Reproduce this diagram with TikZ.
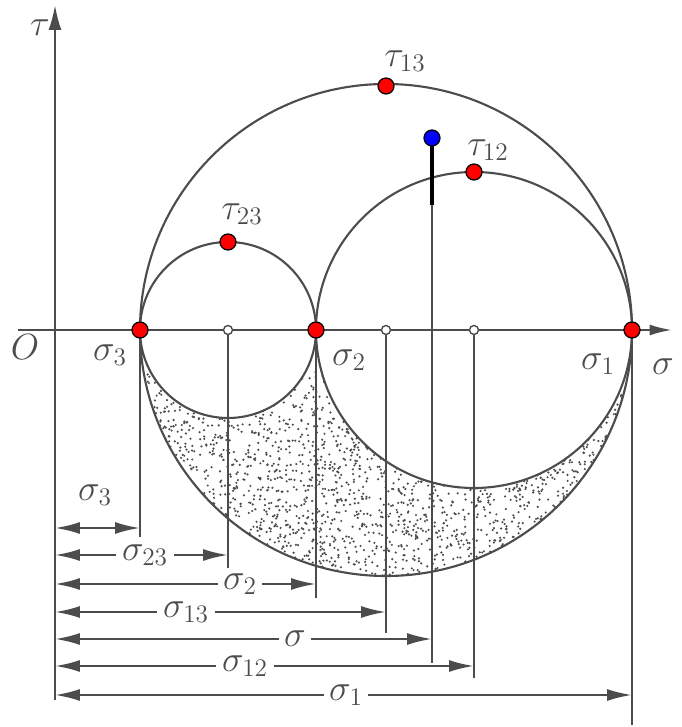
\documentclass[tikz,border=0pt]{standalone}
\usetikzlibrary{arrows.meta}
\definecolor{ink}{gray}{0.3}
\begin{document}
\begin{tikzpicture}[x=0.02cm,y=0.02cm,font=\fontsize{22}{26}\selectfont,
  ext/.style={draw=ink,line width=1.2pt},
  dim/.style={draw=ink,line width=1.3pt,-{Latex[length=5mm,width=2.4mm]}},
  lab/.style={inner sep=3pt,text=ink},
  dot/.style={circle,draw=black,line width=0.7pt,fill=red,minimum size=3.2mm,inner sep=0pt},
  ctr/.style={circle,draw=ink,line width=0.8pt,fill=white,minimum size=1.8mm,inner sep=0pt}]
  \useasboundingbox (0,0) rectangle (682,727);
  % stippled region between the circles
  \begin{scope}
    \clip (140,397) arc[start angle=180,end angle=360,radius=246]
      arc[start angle=0,end angle=-180,radius=158]
      arc[start angle=0,end angle=-180,radius=88] -- cycle;
    \pgfmathsetseed{42}
    \foreach \i in {1,...,2800}{
      \pgfmathsetmacro\r{246*sqrt(rnd)}
      \pgfmathsetmacro\a{180+180*rnd}
      \fill[ink] (386,397) ++(\a:\r) circle[radius=1.2];
    }
  \end{scope}
  % Mohr circles
  \draw[ext] (228,397) circle[radius=88];
  \draw[ext] (474,397) circle[radius=158];
  \draw[ext] (386,397) circle[radius=246];
  % axes
  \coordinate (tbot) at (55,27);
  \coordinate (ttop) at (55,722);
  \coordinate (sl) at (18,397);
  \coordinate (sr) at (672,397);
  \draw[ink,line width=1.3pt,-{Latex[length=5mm,width=2.6mm]}] (tbot) -- (ttop);
  \draw[ink,line width=1.3pt,-{Latex[length=4.5mm,width=2.2mm]}] (sl) -- (sr);
  \node[lab] (tau) at (40,699) {$\tau$};
  \node[lab] (sig) at (663,360) {$\sigma$};
  \node[lab] (O) at (25,380) {$O$};
  % points on the circles
  \coordinate (S3) at (140,397);
  \coordinate (C23) at (228,397);
  \coordinate (S2) at (316,397);
  \coordinate (C13) at (386,397);
  \coordinate (C12) at (474,397);
  \coordinate (S1) at (632,397);
  \coordinate (T23) at (228,485);
  \coordinate (T13) at (386,641);
  \coordinate (T12) at (474,555);
  \coordinate (Sg) at (432,589);
  \coordinate (Sgk) at (432,522);
  \node[lab] (s3) at (110,372) {$\sigma_3$};
  \node[lab] (s2) at (349,367) {$\sigma_2$};
  \node[lab] (s1) at (598,363) {$\sigma_1$};
  \node[lab] (t23) at (242,513) {$\tau_{23}$};
  \node[lab] (t13) at (405,666) {$\tau_{13}$};
  \node[lab] (t12) at (488,577) {$\tau_{12}$};
  % extension lines
  \coordinate (S3b) at (140,190);
  \coordinate (C23b) at (228,159);
  \coordinate (S2b) at (316,129);
  \coordinate (C13b) at (386,94);
  \coordinate (Sgb) at (432,64);
  \coordinate (C12b) at (474,49);
  \coordinate (S1b) at (632,2);
  \draw[ext] (S3) -- (S3b);
  \draw[ext] (C23) -- (C23b);
  \draw[ext] (S2) -- (S2b);
  \draw[ext] (C13) -- (C13b);
  \draw[ext] (Sg) -- (Sgb);
  \draw[ext] (C12) -- (C12b);
  \draw[ext] (S1) -- (S1b);
  % dimension arrows
  \coordinate (L3) at (55,199);   \coordinate (R3) at (140,199);
  \coordinate (L23) at (55,172);  \coordinate (R23) at (228,172);
  \coordinate (L2) at (55,143);   \coordinate (R2) at (316,143);
  \coordinate (L13) at (55,115);  \coordinate (R13) at (386,115);
  \coordinate (Ls) at (55,88);    \coordinate (Rs) at (432,88);
  \coordinate (L12) at (55,61);   \coordinate (R12) at (474,61);
  \coordinate (L1) at (55,32);    \coordinate (R1) at (632,32);
  \draw[dim,{Latex[length=5mm,width=2.4mm]}-{Latex[length=5mm,width=2.4mm]}] (L3) -- (R3);
  \node[lab] (d3) at (95,232) {$\sigma_3$};
  \node[lab] (d23) at (145,172) {$\sigma_{23}$};
  \node[lab] (d2) at (240,143) {$\sigma_2$};
  \node[lab] (d13) at (186,115) {$\sigma_{13}$};
  \node[lab] (ds) at (295,88) {$\sigma$};
  \node[lab] (d12) at (245,61) {$\sigma_{12}$};
  \node[lab] (d1) at (346,32) {$\sigma_1$};
  \foreach \n/\m in {d23/23,d2/2,d13/13,ds/s,d12/12,d1/1}{
    \draw[dim] (\n) -- (L\m);
    \draw[dim] (\n) -- (R\m);
  }
  % marked points
  \draw[black,line width=2.2pt] (Sg) -- (Sgk);
  \node[ctr] (c23) at (C23) {};
  \node[ctr] (c13) at (C13) {};
  \node[ctr] (c12) at (C12) {};
  \node[dot] (p3) at (S3) {};
  \node[dot] (p2) at (S2) {};
  \node[dot] (p1) at (S1) {};
  \node[dot] (q23) at (T23) {};
  \node[dot] (q13) at (T13) {};
  \node[dot] (q12) at (T12) {};
  \node[dot,fill=blue] (ps) at (Sg) {};
\end{tikzpicture}
\end{document}
